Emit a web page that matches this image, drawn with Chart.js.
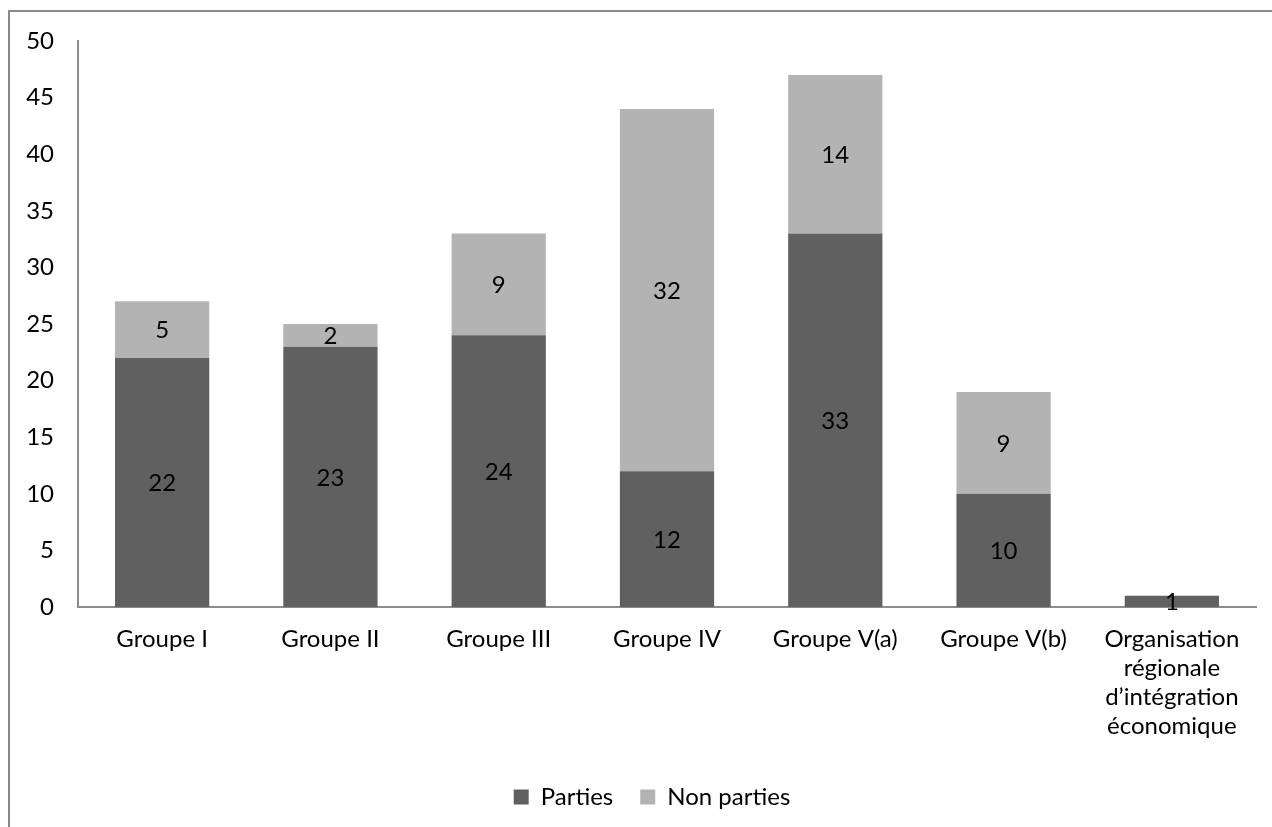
<!DOCTYPE html>
<html lang="fr">
<head>
<meta charset="utf-8">
<title>Parties / Non parties par groupe</title>
<script src="https://cdn.jsdelivr.net/npm/chart.js@4/dist/chart.umd.min.js"></script>
<style>
  html, body { margin: 0; padding: 0; background: #fff; overflow: hidden; }
  #wrap { position: relative; width: 1272px; height: 827px; }
  #frame {
    position: absolute; left: 8px; top: 10px; width: 1400px; height: 1000px;
    border: 2px solid #8a8a8a; box-sizing: border-box;
  }
  #chart { position: absolute; left: 0; top: 0; }
</style>
</head>
<body>
<div id="wrap">
  <div id="frame"></div>
  <canvas id="chart" width="1272" height="827"></canvas>
</div>
<script>
// Données du graphique
const categories = [
  'Groupe I', 'Groupe II', 'Groupe III', 'Groupe IV',
  'Groupe V(a)', 'Groupe V(b)',
  ['Organisation', 'régionale', 'd’intégration', 'économique']
];
const parties = [22, 23, 24, 12, 33, 10, 1];
const nonParties = [5, 2, 9, 32, 14, 9, null];
const yTicks = [0, 5, 10, 15, 20, 25, 30, 35, 40, 45, 50];

const FONT = 'Lato, "Open Sans", sans-serif';
const FONT_SIZE = 24;
const TEXT = '#000';
const LEGEND_SHIFT = 24; // la légende est un peu décalée vers la droite

// Étiquettes de valeur au centre de chaque segment
const segmentLabels = {
  id: 'segmentLabels',
  afterLayout(chart) {
    chart.legend.left += LEGEND_SHIFT;
    chart.legend.right += LEGEND_SHIFT;
  },
  afterDatasetsDraw(chart) {
    const { ctx } = chart;
    ctx.save();
    ctx.font = `${FONT_SIZE}px ${FONT}`;
    ctx.fillStyle = TEXT;
    ctx.textAlign = 'center';
    ctx.textBaseline = 'middle';
    chart.data.datasets.forEach((ds, i) => {
      const meta = chart.getDatasetMeta(i);
      meta.data.forEach((bar, j) => {
        const v = ds.data[j];
        if (v == null) return;
        const { x, y, base } = bar.getProps(['x', 'y', 'base'], true);
        ctx.fillText(String(v), x, (y + base) / 2 + 1);
      });
    });
    ctx.restore();
  }
};

new Chart(document.getElementById('chart'), {
  type: 'bar',
  data: {
    labels: categories,
    datasets: [
      { label: 'Parties', data: parties, backgroundColor: '#606060',
        barPercentage: 0.56, categoryPercentage: 1 },
      { label: 'Non parties', data: nonParties, backgroundColor: '#b3b3b3',
        barPercentage: 0.56, categoryPercentage: 1 }
    ]
  },
  options: {
    responsive: false,
    animation: false,
    layout: { padding: { top: 41, right: 16, bottom: 8, left: 0 } },
    plugins: {
      tooltip: { enabled: false },
      legend: {
        position: 'bottom',
        labels: {
          boxWidth: 15, boxHeight: 15, padding: 27,
          color: TEXT,
          font: { family: FONT, size: FONT_SIZE }
        }
      }
    },
    scales: {
      x: {
        stacked: true,
        grid: { display: false, drawTicks: false },
        border: { color: '#8c8c8c', width: 2 },
        ticks: {
          color: TEXT, padding: 18, maxRotation: 0, autoSkip: false,
          font: { family: FONT, size: FONT_SIZE, lineHeight: 1.2 }
        },
        afterFit: s => { s.height = 151; }
      },
      y: {
        stacked: true,
        min: 0, max: 50,
        afterBuildTicks: s => { s.ticks = yTicks.map(v => ({ value: v })); },
        grid: { display: false, drawTicks: false },
        border: { color: '#8c8c8c', width: 2 },
        ticks: {
          color: TEXT, padding: 24,
          font: { family: FONT, size: FONT_SIZE }
        },
        afterFit: s => { s.width = 78; }
      }
    }
  },
  plugins: [segmentLabels]
});
</script>
</body>
</html>
